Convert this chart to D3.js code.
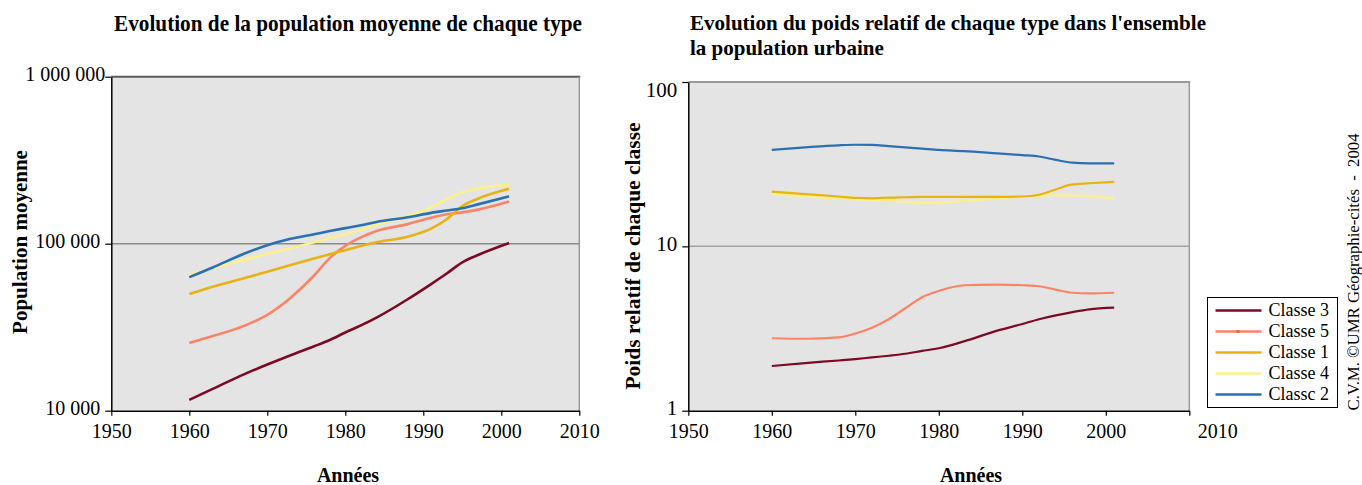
<!DOCTYPE html>
<html>
<head>
<meta charset="utf-8">
<script src="https://cdn.jsdelivr.net/npm/d3@7"></script>
<style>
  html, body { margin: 0; padding: 0; background: #fff; }
  svg { display: block; font-family: "Liberation Serif", "Times New Roman", serif; }
</style>
</head>
<body>
<svg id="chart" width="1362" height="485"></svg>
<script>
// ---- Population moyenne de chaque classe (habitants) ----
const popYears    = [1960, 1963, 1967, 1970, 1973, 1976, 1978, 1980, 1982, 1984, 1988, 1991, 1993, 1995, 1997, 2001];
const popClasse3  = [11600, 13500, 16500, 18900, 21500, 24300, 26500, 29400, 32400, 36100, 46500, 57300, 66300, 77400, 85500, 101000];
const popClasse5  = [25400, 28000, 32200, 37500, 47500, 64500, 82000, 97000, 109000, 119000, 131000, 143000, 150000, 154000, 160000, 179000];
const popClasse1  = [50000, 55300, 62000, 68000, 74500, 81500, 86500, 91500, 97000, 102000, 110000, 123000, 140000, 168000, 186000, 213000];
const popClasse4  = [65000, 71500, 80000, 87000, 94000, 102000, 108000, 114000, 121000, 130000, 146000, 165000, 185000, 203000, 214000, 225000];
const popClasse2  = [63000, 72000, 87000, 98000, 107000, 114000, 119000, 124000, 129000, 135000, 144000, 153000, 158000, 163000, 172000, 192000];

// ---- Poids relatif de chaque classe dans la population urbaine (%) ----
const shareYears   = [1960, 1964, 1968, 1970, 1972, 1974, 1976, 1978, 1980, 1983, 1987, 1990, 1992, 1994, 1996, 1998, 2001];
const shareClasse3 = [1.87, 1.95, 2.02, 2.06, 2.11, 2.16, 2.22, 2.31, 2.40, 2.64, 3.07, 3.37, 3.60, 3.80, 3.98, 4.14, 4.24];
const shareClasse5 = [2.76, 2.74, 2.79, 2.95, 3.20, 3.60, 4.20, 4.90, 5.35, 5.80, 5.85, 5.80, 5.72, 5.45, 5.22, 5.17, 5.22];
const shareClasse1 = [21.5, 20.8, 20.1, 19.7, 19.6, 19.8, 19.9, 20.0, 20.0, 20.0, 20.0, 20.1, 20.6, 22.2, 23.8, 24.2, 24.7];
const shareClasse4 = [20.8, 20.1, 19.5, 19.3, 19.1, 18.9, 18.6, 18.4, 18.4, 18.9, 19.6, 20.1, 20.3, 20.5, 20.4, 20.2, 19.6];
const shareClasse2 = [38.6, 40.0, 41.2, 41.5, 41.4, 40.7, 40.0, 39.3, 38.6, 38.0, 36.8, 35.9, 35.2, 33.6, 32.3, 32.0, 32.0];

const classNames  = ["Classe 3", "Classe 5", "Classe 1", "Classe 4", "Classc 2"];
const classColors = ["#7d0a24", "#fc8466", "#e8b213", "#fdf08c", "#2a70b2"];

const yearTicks        = [1950, 1960, 1970, 1980, 1990, 2000, 2010];
const popTicks         = [10000, 100000, 1000000];
const popTickLabels    = ["10 000", "100 000", "1 000 000"];
const shareTicks       = [1, 10, 100];
const shareTickLabels  = ["1", "10", "100"];

const svg = d3.select("#chart");

function drawPanel(o) {
  const g = svg.append("g");
  const x = d3.scaleLinear().domain([1950, 2010]).range([o.left, o.right]);
  const y = d3.scaleLog().domain([o.ticks[0], o.ticks[o.ticks.length - 1]]).range([o.bottom, o.top]);

  // plot background
  g.append("rect")
    .attr("x", o.left).attr("y", o.top)
    .attr("width", o.right - o.left).attr("height", o.bottom - o.top)
    .attr("fill", "#e4e4e4");

  // horizontal grid line on the middle decade
  g.append("line")
    .attr("x1", o.left).attr("x2", o.right)
    .attr("y1", y(o.ticks[1])).attr("y2", y(o.ticks[1]))
    .attr("stroke", o.gridColor).attr("stroke-width", 1.5);

  // top and right frame
  g.append("line")
    .attr("x1", o.left).attr("x2", o.right + 1)
    .attr("y1", o.top).attr("y2", o.top)
    .attr("stroke", o.topColor).attr("stroke-width", 2);
  g.append("line")
    .attr("x1", o.right).attr("x2", o.right)
    .attr("y1", o.top).attr("y2", o.bottom)
    .attr("stroke", "#9a9a9a").attr("stroke-width", 1.5);

  // series
  const line = d3.line()
    .x(d => x(d[0]))
    .y(d => y(d[1]))
    .curve(d3.curveMonotoneX);
  o.series.forEach((vals, i) => {
    g.append("path")
      .datum(o.years.map((yr, k) => [yr, vals[k]]))
      .attr("fill", "none")
      .attr("stroke", classColors[o.order[i]])
      .attr("stroke-width", o.lineWidth)
      .attr("stroke-linejoin", "round")
      .attr("d", line);
  });

  // x axis
  const xa = g.append("g")
    .attr("transform", `translate(0,${o.bottom})`)
    .call(d3.axisBottom(x).tickValues(yearTicks).tickFormat(d3.format("d")).tickSize(5).tickSizeOuter(0).tickPadding(8));
  xa.select(".domain").attr("stroke", "#000").attr("stroke-width", 1.5);
  xa.selectAll(".tick line").attr("stroke", "#000").attr("stroke-width", 1.2);
  xa.selectAll("text").attr("font-size", 20).attr("font-family", "Liberation Serif").attr("fill", "#000");
  if (o.lastLabelShift) {
    xa.selectAll(".tick").filter(d => d === 2010).select("text").attr("dx", o.lastLabelShift);
  }

  // y axis
  const ya = g.append("g")
    .attr("transform", `translate(${o.left},0)`)
    .call(d3.axisLeft(y).tickValues(o.ticks).tickFormat((d, i) => o.tickLabels[i]).tickSize(6).tickSizeOuter(0).tickPadding(5));
  ya.select(".domain").attr("stroke", "#000").attr("stroke-width", 1.5);
  ya.selectAll(".tick line").attr("stroke", "#000").attr("stroke-width", 1.2);
  ya.selectAll("text")
    .attr("font-size", o.yFont).attr("font-family", "Liberation Serif").attr("fill", "#000")
    .attr("dy", "0.2em");
  ya.selectAll(".tick").filter(d => d === o.ticks[o.ticks.length - 1]).select("text")
    .attr("dx", o.topLabelDx).attr("dy", o.topLabelDy);

  // axis titles
  svg.append("text")
    .attr("x", o.xTitleX).attr("y", 482)
    .attr("text-anchor", "middle")
    .attr("font-size", 20).attr("font-weight", "bold")
    .text("Années");
  svg.append("text")
    .attr("transform", `translate(${o.yTitleX},${o.yTitleY}) rotate(-90)`)
    .attr("text-anchor", "middle")
    .attr("font-size", o.yTitleFont).attr("font-weight", "bold")
    .text(o.yTitle);
}

drawPanel({
  left: 111.3, right: 579.3, top: 76.7, bottom: 410.7,
  ticks: popTicks, tickLabels: popTickLabels, yFont: 20,
  years: popYears,
  series: [popClasse3, popClasse5, popClasse1, popClasse4, popClasse2],
  order: [0, 1, 2, 3, 4],
  lineWidth: 2.6, gridColor: "#8a8a8a", topColor: "#5a5a5a",
  topLabelDx: 5, topLabelDy: "0.2em",
  xTitleX: 348, yTitleX: 27, yTitleY: 242, yTitleFont: 21, yTitle: "Population moyenne"
});

drawPanel({
  left: 688.3, right: 1189.3, top: 82, bottom: 410.7,
  ticks: shareTicks, tickLabels: shareTickLabels, yFont: 21,
  years: shareYears,
  series: [shareClasse3, shareClasse5, shareClasse4, shareClasse1, shareClasse2],
  order: [0, 1, 3, 2, 4],
  lineWidth: 2.2, gridColor: "#a3a3a3", topColor: "#9a9a9a",
  topLabelDx: 0, topLabelDy: "0.7em",
  lastLabelShift: 28,
  xTitleX: 971, yTitleX: 640, yTitleY: 256, yTitleFont: 21.5, yTitle: "Poids relatif de chaque classe"
});

// titles
svg.append("text")
  .attr("x", 114).attr("y", 31)
  .attr("font-size", 23).attr("font-weight", "bold")
  .attr("textLength", 468).attr("lengthAdjust", "spacingAndGlyphs")
  .text("Evolution de la population moyenne de chaque type");
svg.append("text")
  .attr("x", 690).attr("y", 30)
  .attr("font-size", 21).attr("font-weight", "bold")
  .attr("textLength", 516).attr("lengthAdjust", "spacingAndGlyphs")
  .text("Evolution du poids relatif de chaque type dans l'ensemble");
svg.append("text")
  .attr("x", 690).attr("y", 55)
  .attr("font-size", 21).attr("font-weight", "bold")
  .text("la population urbaine");

// legend
const legend = svg.append("g").attr("transform", "translate(1207.5,297.5)");
legend.append("rect")
  .attr("width", 130).attr("height", 110)
  .attr("fill", "#fff").attr("stroke", "#000").attr("stroke-width", 1);
const legendRows = d3.range(classNames.length);
const ly = d3.scalePoint().domain(legendRows).range([13, 97]);
const rows = legend.selectAll("g.row").data(legendRows).join("g")
  .attr("class", "row")
  .attr("transform", d => `translate(0,${ly(d)})`);
rows.append("line")
  .attr("x1", 8).attr("x2", 54)
  .attr("stroke", d => classColors[d]).attr("stroke-width", 2.6);
rows.filter(d => d === 1).append("rect")
  .attr("x", 29).attr("y", -1.5).attr("width", 3).attr("height", 3)
  .attr("fill", "#e86a4c");
rows.append("text")
  .attr("x", 61).attr("dy", "0.33em")
  .attr("font-size", 18)
  .text(d => classNames[d]);

// credit
svg.append("text")
  .attr("transform", "translate(1359,272) rotate(-90)")
  .attr("text-anchor", "middle")
  .attr("font-size", 17)
  .attr("textLength", 277).attr("lengthAdjust", "spacingAndGlyphs")
  .style("white-space", "pre")
  .text("C.V.M. ©UMR Géographie-cités  -  2004");
</script>
</body>
</html>
